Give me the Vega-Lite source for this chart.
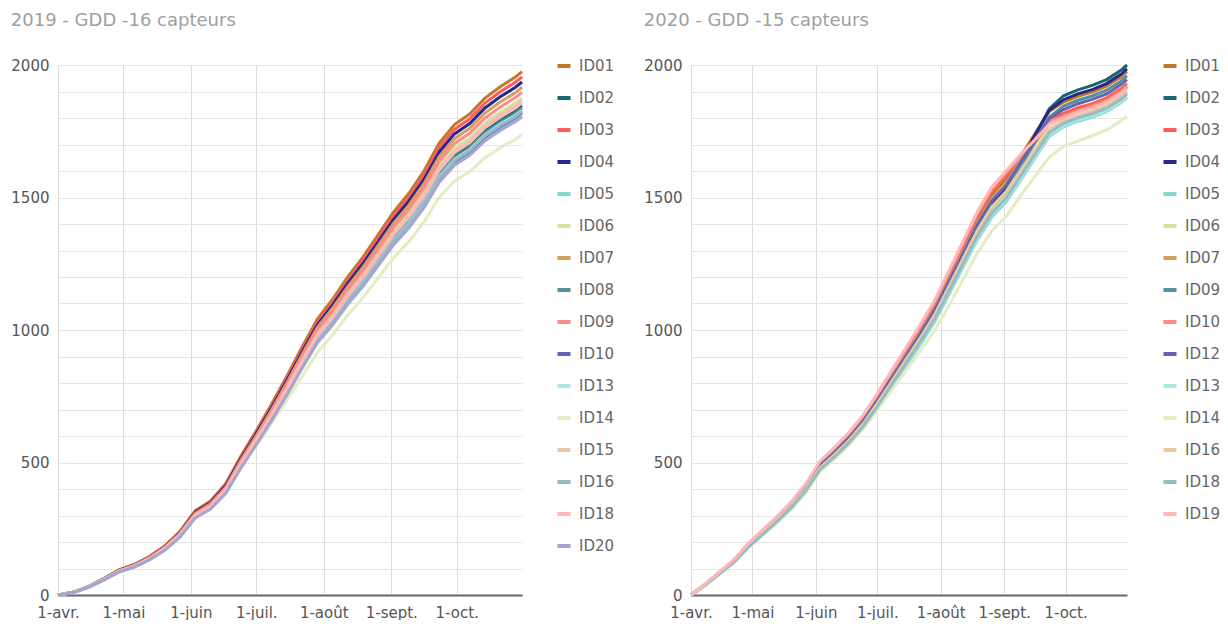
{
"$schema": "https://vega.github.io/schema/vega-lite/v6.json",
"background": "white",
"padding": {"left": 10, "top": 12, "right": 0, "bottom": 0},
"config": {
  "font": "DejaVu Sans",
  "view": {"stroke": null},
  "concat": {"spacing": 28},
  "title": {"fontSize": 18, "fontWeight": "normal", "color": "#a0a0a0", "anchor": "start", "frame": "bounds", "offset": 27},
  "axisX": {"domainColor": "#666666", "domainWidth": 2, "ticks": false, "grid": true, "gridColor": "#dddddd", "labelFontSize": 15, "labelColor": "#555555", "labelPadding": 10, "labelFlush": false, "labelOverlap": false, "title": null},
  "axisY": {"domain": false, "ticks": false, "grid": true, "gridColor": "#e4e4e4", "labelFontSize": 15, "labelColor": "#555555", "labelPadding": 9, "title": null},
  "legend": {"orient": "none", "legendY": -8, "padding": 0, "symbolType": "stroke", "symbolStrokeWidth": 4, "symbolSize": 170, "labelFontSize": 15, "labelColor": "#666666", "labelOffset": 6, "rowPadding": 15}
},
"datasets": {
  "d2019": [
    {"d":"2019-04-01","ID01":0,"ID02":0,"ID03":0,"ID04":0,"ID05":0,"ID06":0,"ID07":0,"ID08":0,"ID09":0,"ID10":0,"ID13":0,"ID14":0,"ID15":0,"ID16":0,"ID18":0,"ID20":0},
    {"d":"2019-04-08","ID01":10,"ID02":9,"ID03":10,"ID04":10,"ID05":9,"ID06":10,"ID07":10,"ID08":9,"ID09":10,"ID10":9,"ID13":9,"ID14":9,"ID15":9,"ID16":9,"ID18":9,"ID20":9},
    {"d":"2019-04-15","ID01":32,"ID02":30,"ID03":32,"ID04":31,"ID05":29,"ID06":30,"ID07":31,"ID08":30,"ID09":31,"ID10":30,"ID13":30,"ID14":29,"ID15":30,"ID16":30,"ID18":30,"ID20":29},
    {"d":"2019-04-22","ID01":62,"ID02":58,"ID03":61,"ID04":61,"ID05":57,"ID06":59,"ID07":60,"ID08":58,"ID09":60,"ID10":57,"ID13":57,"ID14":57,"ID15":59,"ID16":57,"ID18":58,"ID20":57},
    {"d":"2019-04-29","ID01":95,"ID02":89,"ID03":94,"ID04":93,"ID05":87,"ID06":90,"ID07":92,"ID08":88,"ID09":91,"ID10":88,"ID13":88,"ID14":87,"ID15":90,"ID16":88,"ID18":89,"ID20":87},
    {"d":"2019-05-06","ID01":115,"ID02":108,"ID03":114,"ID04":113,"ID05":106,"ID06":109,"ID07":112,"ID08":107,"ID09":110,"ID10":106,"ID13":106,"ID14":106,"ID15":109,"ID16":106,"ID18":108,"ID20":105},
    {"d":"2019-05-13","ID01":145,"ID02":136,"ID03":144,"ID04":142,"ID05":133,"ID06":138,"ID07":141,"ID08":135,"ID09":139,"ID10":134,"ID13":134,"ID14":133,"ID15":137,"ID16":134,"ID18":136,"ID20":133},
    {"d":"2019-05-20","ID01":185,"ID02":173,"ID03":183,"ID04":181,"ID05":170,"ID06":176,"ID07":179,"ID08":172,"ID09":178,"ID10":171,"ID13":171,"ID14":170,"ID15":175,"ID16":171,"ID18":174,"ID20":169},
    {"d":"2019-05-27","ID01":240,"ID02":224,"ID03":238,"ID04":235,"ID05":220,"ID06":228,"ID07":233,"ID08":223,"ID09":230,"ID10":221,"ID13":222,"ID14":221,"ID15":227,"ID16":222,"ID18":226,"ID20":219},
    {"d":"2019-06-03","ID01":318,"ID02":297,"ID03":315,"ID04":312,"ID05":292,"ID06":302,"ID07":308,"ID08":296,"ID09":305,"ID10":293,"ID13":294,"ID14":293,"ID15":301,"ID16":294,"ID18":299,"ID20":291},
    {"d":"2019-06-10","ID01":355,"ID02":332,"ID03":351,"ID04":348,"ID05":326,"ID06":337,"ID07":344,"ID08":330,"ID09":341,"ID10":327,"ID13":329,"ID14":327,"ID15":335,"ID16":328,"ID18":334,"ID20":324},
    {"d":"2019-06-17","ID01":420,"ID02":393,"ID03":416,"ID04":412,"ID05":386,"ID06":399,"ID07":407,"ID08":391,"ID09":403,"ID10":387,"ID13":389,"ID14":386,"ID15":397,"ID16":388,"ID18":395,"ID20":384},
    {"d":"2019-06-24","ID01":525,"ID02":491,"ID03":520,"ID04":515,"ID05":482,"ID06":499,"ID07":509,"ID08":488,"ID09":504,"ID10":484,"ID13":486,"ID14":483,"ID15":496,"ID16":485,"ID18":494,"ID20":480},
    {"d":"2019-07-01","ID01":620,"ID02":580,"ID03":614,"ID04":608,"ID05":569,"ID06":589,"ID07":601,"ID08":577,"ID09":595,"ID10":572,"ID13":574,"ID14":564,"ID15":586,"ID16":573,"ID18":583,"ID20":567},
    {"d":"2019-07-08","ID01":720,"ID02":673,"ID03":713,"ID04":706,"ID05":661,"ID06":684,"ID07":698,"ID08":670,"ID09":691,"ID10":664,"ID13":667,"ID14":648,"ID15":680,"ID16":665,"ID18":677,"ID20":658},
    {"d":"2019-07-15","ID01":825,"ID02":771,"ID03":817,"ID04":809,"ID05":757,"ID06":784,"ID07":800,"ID08":767,"ID09":792,"ID10":761,"ID13":764,"ID14":734,"ID15":780,"ID16":762,"ID18":776,"ID20":754},
    {"d":"2019-07-22","ID01":935,"ID02":874,"ID03":926,"ID04":916,"ID05":858,"ID06":888,"ID07":907,"ID08":870,"ID09":898,"ID10":862,"ID13":866,"ID14":823,"ID15":884,"ID16":864,"ID18":879,"ID20":855},
    {"d":"2019-07-29","ID01":1040,"ID02":972,"ID03":1030,"ID04":1019,"ID05":955,"ID06":988,"ID07":1009,"ID08":967,"ID09":998,"ID10":959,"ID13":963,"ID14":915,"ID15":983,"ID16":961,"ID18":978,"ID20":951},
    {"d":"2019-08-05","ID01":1115,"ID02":1043,"ID03":1104,"ID04":1093,"ID05":1024,"ID06":1059,"ID07":1082,"ID08":1037,"ID09":1070,"ID10":1028,"ID13":1033,"ID14":981,"ID15":1054,"ID16":1030,"ID18":1048,"ID20":1019},
    {"d":"2019-08-12","ID01":1200,"ID02":1122,"ID03":1188,"ID04":1176,"ID05":1102,"ID06":1140,"ID07":1164,"ID08":1116,"ID09":1152,"ID10":1106,"ID13":1111,"ID14":1056,"ID15":1134,"ID16":1109,"ID18":1128,"ID20":1097},
    {"d":"2019-08-19","ID01":1275,"ID02":1192,"ID03":1262,"ID04":1250,"ID05":1170,"ID06":1211,"ID07":1237,"ID08":1186,"ID09":1224,"ID10":1176,"ID13":1181,"ID14":1122,"ID15":1205,"ID16":1178,"ID18":1199,"ID20":1165},
    {"d":"2019-08-26","ID01":1360,"ID02":1272,"ID03":1346,"ID04":1333,"ID05":1248,"ID06":1292,"ID07":1319,"ID08":1265,"ID09":1306,"ID10":1254,"ID13":1259,"ID14":1197,"ID15":1285,"ID16":1257,"ID18":1278,"ID20":1243},
    {"d":"2019-09-02","ID01":1445,"ID02":1351,"ID03":1431,"ID04":1416,"ID05":1327,"ID06":1373,"ID07":1402,"ID08":1344,"ID09":1387,"ID10":1332,"ID13":1338,"ID14":1272,"ID15":1366,"ID16":1335,"ID18":1358,"ID20":1321},
    {"d":"2019-09-09","ID01":1515,"ID02":1417,"ID03":1500,"ID04":1485,"ID05":1391,"ID06":1439,"ID07":1470,"ID08":1409,"ID09":1454,"ID10":1397,"ID13":1403,"ID14":1333,"ID15":1432,"ID16":1400,"ID18":1424,"ID20":1385},
    {"d":"2019-09-16","ID01":1600,"ID02":1496,"ID03":1584,"ID04":1568,"ID05":1469,"ID06":1520,"ID07":1552,"ID08":1488,"ID09":1536,"ID10":1475,"ID13":1482,"ID14":1408,"ID15":1512,"ID16":1478,"ID18":1504,"ID20":1462},
    {"d":"2019-09-23","ID01":1705,"ID02":1594,"ID03":1688,"ID04":1671,"ID05":1565,"ID06":1620,"ID07":1654,"ID08":1586,"ID09":1637,"ID10":1572,"ID13":1579,"ID14":1500,"ID15":1611,"ID16":1575,"ID18":1603,"ID20":1558},
    {"d":"2019-09-30","ID01":1775,"ID02":1660,"ID03":1757,"ID04":1740,"ID05":1629,"ID06":1686,"ID07":1722,"ID08":1651,"ID09":1704,"ID10":1637,"ID13":1644,"ID14":1562,"ID15":1677,"ID16":1640,"ID18":1669,"ID20":1622},
    {"d":"2019-10-07","ID01":1815,"ID02":1697,"ID03":1797,"ID04":1779,"ID05":1666,"ID06":1724,"ID07":1761,"ID08":1688,"ID09":1742,"ID10":1673,"ID13":1681,"ID14":1597,"ID15":1715,"ID16":1677,"ID18":1706,"ID20":1659},
    {"d":"2019-10-14","ID01":1875,"ID02":1753,"ID03":1856,"ID04":1838,"ID05":1721,"ID06":1781,"ID07":1819,"ID08":1744,"ID09":1800,"ID10":1729,"ID13":1736,"ID14":1650,"ID15":1772,"ID16":1733,"ID18":1763,"ID20":1714},
    {"d":"2019-10-21","ID01":1918,"ID02":1793,"ID03":1899,"ID04":1880,"ID05":1761,"ID06":1822,"ID07":1860,"ID08":1784,"ID09":1841,"ID10":1768,"ID13":1776,"ID14":1688,"ID15":1813,"ID16":1772,"ID18":1803,"ID20":1753},
    {"d":"2019-10-28","ID01":1955,"ID02":1828,"ID03":1935,"ID04":1916,"ID05":1795,"ID06":1857,"ID07":1896,"ID08":1818,"ID09":1877,"ID10":1802,"ID13":1810,"ID14":1720,"ID15":1847,"ID16":1806,"ID18":1838,"ID20":1787},
    {"d":"2019-10-31","ID01":1975,"ID02":1847,"ID03":1955,"ID04":1936,"ID05":1813,"ID06":1876,"ID07":1916,"ID08":1837,"ID09":1896,"ID10":1821,"ID13":1829,"ID14":1738,"ID15":1866,"ID16":1825,"ID18":1857,"ID20":1805}
  ],
  "d2020": [
    {"d":"2020-04-01","ID01":0,"ID02":0,"ID03":0,"ID04":0,"ID05":0,"ID06":0,"ID07":0,"ID09":0,"ID10":0,"ID12":0,"ID13":0,"ID14":0,"ID16":0,"ID18":0,"ID19":0},
    {"d":"2020-04-08","ID01":40,"ID02":39,"ID03":40,"ID04":39,"ID05":38,"ID06":38,"ID07":40,"ID09":39,"ID10":41,"ID12":39,"ID13":38,"ID14":38,"ID16":39,"ID18":38,"ID19":41},
    {"d":"2020-04-15","ID01":85,"ID02":83,"ID03":86,"ID04":83,"ID05":80,"ID06":82,"ID07":84,"ID09":82,"ID10":86,"ID12":84,"ID13":81,"ID14":80,"ID16":82,"ID18":81,"ID19":87},
    {"d":"2020-04-22","ID01":130,"ID02":127,"ID03":131,"ID04":127,"ID05":123,"ID06":125,"ID07":129,"ID09":126,"ID10":132,"ID12":128,"ID13":124,"ID14":122,"ID16":126,"ID18":124,"ID19":133},
    {"d":"2020-04-29","ID01":190,"ID02":185,"ID03":192,"ID04":186,"ID05":180,"ID06":182,"ID07":188,"ID09":184,"ID10":193,"ID12":187,"ID13":181,"ID14":179,"ID16":184,"ID18":181,"ID19":194},
    {"d":"2020-05-06","ID01":240,"ID02":234,"ID03":242,"ID04":235,"ID05":227,"ID06":230,"ID07":238,"ID09":233,"ID10":244,"ID12":236,"ID13":228,"ID14":226,"ID16":233,"ID18":229,"ID19":245},
    {"d":"2020-05-13","ID01":290,"ID02":283,"ID03":293,"ID04":284,"ID05":274,"ID06":278,"ID07":287,"ID09":281,"ID10":294,"ID12":286,"ID13":276,"ID14":273,"ID16":281,"ID18":277,"ID19":296},
    {"d":"2020-05-20","ID01":345,"ID02":336,"ID03":348,"ID04":338,"ID05":326,"ID06":331,"ID07":342,"ID09":335,"ID10":350,"ID12":340,"ID13":328,"ID14":324,"ID16":335,"ID18":329,"ID19":352},
    {"d":"2020-05-27","ID01":410,"ID02":400,"ID03":414,"ID04":402,"ID05":387,"ID06":394,"ID07":406,"ID09":398,"ID10":416,"ID12":404,"ID13":390,"ID14":385,"ID16":398,"ID18":392,"ID19":418},
    {"d":"2020-06-03","ID01":495,"ID02":483,"ID03":500,"ID04":485,"ID05":468,"ID06":475,"ID07":490,"ID09":480,"ID10":502,"ID12":488,"ID13":470,"ID14":465,"ID16":480,"ID18":473,"ID19":505},
    {"d":"2020-06-10","ID01":545,"ID02":531,"ID03":550,"ID04":534,"ID05":515,"ID06":523,"ID07":540,"ID09":529,"ID10":553,"ID12":537,"ID13":518,"ID14":512,"ID16":529,"ID18":520,"ID19":556},
    {"d":"2020-06-17","ID01":600,"ID02":585,"ID03":606,"ID04":588,"ID05":567,"ID06":576,"ID07":594,"ID09":582,"ID10":609,"ID12":591,"ID13":570,"ID14":564,"ID16":582,"ID18":573,"ID19":612},
    {"d":"2020-06-24","ID01":665,"ID02":648,"ID03":672,"ID04":652,"ID05":628,"ID06":638,"ID07":658,"ID09":645,"ID10":675,"ID12":655,"ID13":632,"ID14":625,"ID16":645,"ID18":635,"ID19":678},
    {"d":"2020-07-01","ID01":745,"ID02":726,"ID03":752,"ID04":730,"ID05":704,"ID06":715,"ID07":738,"ID09":723,"ID10":756,"ID12":734,"ID13":708,"ID14":697,"ID16":723,"ID18":711,"ID19":760},
    {"d":"2020-07-08","ID01":830,"ID02":809,"ID03":838,"ID04":813,"ID05":784,"ID06":797,"ID07":822,"ID09":805,"ID10":842,"ID12":818,"ID13":789,"ID14":772,"ID16":805,"ID18":793,"ID19":847},
    {"d":"2020-07-15","ID01":915,"ID02":892,"ID03":924,"ID04":897,"ID05":865,"ID06":878,"ID07":906,"ID09":888,"ID10":929,"ID12":901,"ID13":869,"ID14":846,"ID16":888,"ID18":874,"ID19":933},
    {"d":"2020-07-22","ID01":1000,"ID02":975,"ID03":1010,"ID04":980,"ID05":945,"ID06":960,"ID07":990,"ID09":970,"ID10":1015,"ID12":985,"ID13":950,"ID14":920,"ID16":970,"ID18":955,"ID19":1020},
    {"d":"2020-07-29","ID01":1090,"ID02":1063,"ID03":1101,"ID04":1068,"ID05":1030,"ID06":1046,"ID07":1079,"ID09":1057,"ID10":1106,"ID12":1074,"ID13":1036,"ID14":997,"ID16":1057,"ID18":1041,"ID19":1112},
    {"d":"2020-08-05","ID01":1200,"ID02":1170,"ID03":1212,"ID04":1176,"ID05":1134,"ID06":1152,"ID07":1188,"ID09":1164,"ID10":1218,"ID12":1182,"ID13":1140,"ID14":1092,"ID16":1164,"ID18":1146,"ID19":1224},
    {"d":"2020-08-12","ID01":1310,"ID02":1277,"ID03":1323,"ID04":1284,"ID05":1238,"ID06":1258,"ID07":1297,"ID09":1271,"ID10":1330,"ID12":1290,"ID13":1245,"ID14":1192,"ID16":1271,"ID18":1251,"ID19":1336},
    {"d":"2020-08-19","ID01":1420,"ID02":1385,"ID03":1434,"ID04":1392,"ID05":1342,"ID06":1363,"ID07":1406,"ID09":1377,"ID10":1441,"ID12":1399,"ID13":1349,"ID14":1292,"ID16":1377,"ID18":1356,"ID19":1448},
    {"d":"2020-08-26","ID01":1510,"ID02":1472,"ID03":1525,"ID04":1480,"ID05":1427,"ID06":1450,"ID07":1495,"ID09":1465,"ID10":1533,"ID12":1487,"ID13":1435,"ID14":1374,"ID16":1465,"ID18":1442,"ID19":1540},
    {"d":"2020-09-02","ID01":1570,"ID02":1531,"ID03":1586,"ID04":1539,"ID05":1484,"ID06":1507,"ID07":1554,"ID09":1523,"ID10":1594,"ID12":1546,"ID13":1492,"ID14":1429,"ID16":1523,"ID18":1499,"ID19":1601},
    {"d":"2020-09-09","ID01":1655,"ID02":1630,"ID03":1658,"ID04":1627,"ID05":1564,"ID06":1589,"ID07":1625,"ID09":1614,"ID10":1650,"ID12":1633,"ID13":1572,"ID14":1506,"ID16":1602,"ID18":1581,"ID19":1663},
    {"d":"2020-09-16","ID01":1740,"ID02":1731,"ID03":1723,"ID04":1735,"ID05":1648,"ID06":1670,"ID07":1705,"ID09":1709,"ID10":1719,"ID12":1714,"ID13":1653,"ID14":1580,"ID16":1681,"ID18":1663,"ID19":1717},
    {"d":"2020-09-23","ID01":1825,"ID02":1834,"ID03":1794,"ID04":1828,"ID05":1730,"ID06":1752,"ID07":1779,"ID09":1803,"ID10":1789,"ID12":1798,"ID13":1736,"ID14":1652,"ID16":1759,"ID18":1745,"ID19":1776},
    {"d":"2020-09-30","ID01":1860,"ID02":1884,"ID03":1817,"ID04":1869,"ID05":1767,"ID06":1786,"ID07":1808,"ID09":1845,"ID10":1804,"ID12":1832,"ID13":1771,"ID14":1693,"ID16":1789,"ID18":1780,"ID19":1800},
    {"d":"2020-10-07","ID01":1882,"ID02":1906,"ID03":1839,"ID04":1891,"ID05":1788,"ID06":1807,"ID07":1829,"ID09":1867,"ID10":1826,"ID12":1854,"ID13":1792,"ID14":1713,"ID16":1810,"ID18":1801,"ID19":1822},
    {"d":"2020-10-14","ID01":1898,"ID02":1923,"ID03":1854,"ID04":1907,"ID05":1803,"ID06":1822,"ID07":1845,"ID09":1883,"ID10":1841,"ID12":1870,"ID13":1807,"ID14":1733,"ID16":1826,"ID18":1816,"ID19":1837},
    {"d":"2020-10-21","ID01":1920,"ID02":1945,"ID03":1876,"ID04":1930,"ID05":1824,"ID06":1843,"ID07":1866,"ID09":1905,"ID10":1862,"ID12":1891,"ID13":1828,"ID14":1755,"ID16":1847,"ID18":1837,"ID19":1859},
    {"d":"2020-10-28","ID01":1955,"ID02":1980,"ID03":1910,"ID04":1965,"ID05":1857,"ID06":1877,"ID07":1900,"ID09":1939,"ID10":1896,"ID12":1926,"ID13":1861,"ID14":1789,"ID16":1881,"ID18":1871,"ID19":1892},
    {"d":"2020-10-31","ID01":1975,"ID02":2000,"ID03":1930,"ID04":1985,"ID05":1876,"ID06":1896,"ID07":1920,"ID09":1959,"ID10":1916,"ID12":1945,"ID13":1880,"ID14":1807,"ID16":1900,"ID18":1890,"ID19":1912}
  ]
},
"hconcat": [
  {
    "title": "2019 - GDD -16 capteurs",
    "width": 464,
    "height": 530,
    "data": {"name": "d2019"},
    "transform": [{"fold": ["ID01","ID02","ID03","ID04","ID05","ID06","ID07","ID08","ID09","ID10","ID13","ID14","ID15","ID16","ID18","ID20"], "as": ["id","v"]}],
    "mark": {"type": "line", "strokeWidth": 3},
    "encoding": {
      "x": {"field": "d", "type": "temporal", "scale": {"type": "utc", "domain": [{"year":2019,"month":4,"date":1,"utc":true},{"year":2019,"month":10,"date":31,"utc":true}]},
        "axis": {"values": [{"year":2019,"month":4,"date":1,"utc":true},{"year":2019,"month":5,"date":1,"utc":true},{"year":2019,"month":6,"date":1,"utc":true},{"year":2019,"month":7,"date":1,"utc":true},{"year":2019,"month":8,"date":1,"utc":true},{"year":2019,"month":9,"date":1,"utc":true},{"year":2019,"month":10,"date":1,"utc":true}],
          "labelExpr": "'1-' + ['janv.','févr.','mars','avr.','mai','juin','juil.','août','sept.','oct.','nov.','déc.'][utcmonth(datum.value)]"}},
      "y": {"field": "v", "type": "quantitative", "scale": {"domain": [0, 2000], "nice": false},
        "axis": {"values": [0,100,200,300,400,500,600,700,800,900,1000,1100,1200,1300,1400,1500,1600,1700,1800,1900,2000], "labelExpr": "datum.value % 500 === 0 ? datum.label : ''", "format": "d"}},
      "color": {"field": "id", "type": "nominal",
        "scale": {"domain": ["ID01","ID02","ID03","ID04","ID05","ID06","ID07","ID08","ID09","ID10","ID13","ID14","ID15","ID16","ID18","ID20"],
                  "range": ["#c07a2c","#1b6670","#ff5b5b","#26268c","#84d8d0","#d6e3a0","#d3a060","#54919a","#ff8a8a","#6464b0","#abe6e0","#e3edc2","#e8c9a4","#95bcc3","#ffb7b7","#a5a5d3"]},
        "legend": {"title": null, "orient": "none", "legendX": 497, "legendY": -8}}
    }
  },
  {
    "title": "2020 - GDD -15 capteurs",
    "width": 436,
    "height": 530,
    "data": {"name": "d2020"},
    "transform": [{"fold": ["ID01","ID02","ID03","ID04","ID05","ID06","ID07","ID09","ID10","ID12","ID13","ID14","ID16","ID18","ID19"], "as": ["id","v"]}],
    "mark": {"type": "line", "strokeWidth": 3},
    "encoding": {
      "x": {"field": "d", "type": "temporal", "scale": {"type": "utc", "domain": [{"year":2020,"month":4,"date":1,"utc":true},{"year":2020,"month":10,"date":31,"utc":true}]},
        "axis": {"values": [{"year":2020,"month":4,"date":1,"utc":true},{"year":2020,"month":5,"date":1,"utc":true},{"year":2020,"month":6,"date":1,"utc":true},{"year":2020,"month":7,"date":1,"utc":true},{"year":2020,"month":8,"date":1,"utc":true},{"year":2020,"month":9,"date":1,"utc":true},{"year":2020,"month":10,"date":1,"utc":true}],
          "labelExpr": "'1-' + ['janv.','févr.','mars','avr.','mai','juin','juil.','août','sept.','oct.','nov.','déc.'][utcmonth(datum.value)]"}},
      "y": {"field": "v", "type": "quantitative", "scale": {"domain": [0, 2000], "nice": false},
        "axis": {"values": [0,100,200,300,400,500,600,700,800,900,1000,1100,1200,1300,1400,1500,1600,1700,1800,1900,2000], "labelExpr": "datum.value % 500 === 0 ? datum.label : ''", "format": "d"}},
      "color": {"field": "id", "type": "nominal",
        "scale": {"domain": ["ID01","ID02","ID03","ID04","ID05","ID06","ID07","ID09","ID10","ID12","ID13","ID14","ID16","ID18","ID19"],
                  "range": ["#c07a2c","#1b6670","#ff5b5b","#26268c","#84d8d0","#d6e3a0","#d3a060","#54919a","#ff8a8a","#6464b0","#abe6e0","#e3edc2","#e8c9a4","#95bcc3","#ffb7b7"]},
        "legend": {"title": null, "orient": "none", "legendX": 470, "legendY": -8}}
    }
  }
],
"resolve": {"scale": {"color": "independent", "x": "independent"}, "legend": {"color": "independent"}}
}
